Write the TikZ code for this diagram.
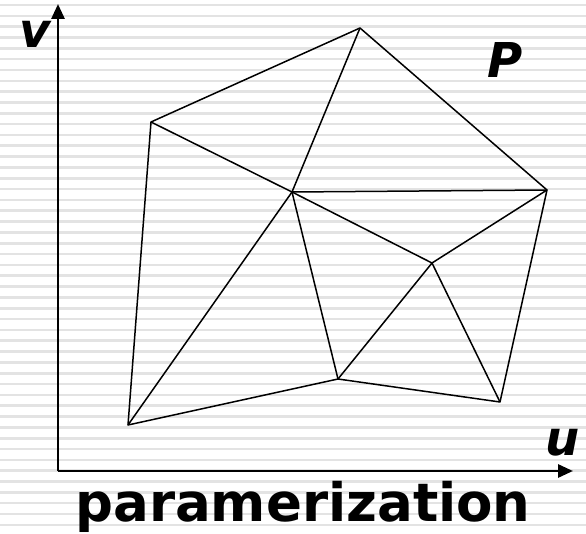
\documentclass[tikz,border=0pt]{standalone}
\usepackage{fontspec}
\setmainfont{DejaVu Sans}
\usetikzlibrary{arrows.meta}
\begin{document}
\begin{tikzpicture}[x=1pt,y=-1pt,
  stripe/.style={draw=gray!22,line width=2.6pt},
  axis/.style={line width=2.8pt,-{Triangle[length=15pt,width=13pt]}},
  edge/.style={line width=1.5pt,line join=round},
  lbl/.style={font=\fontsize{48}{48}\selectfont\bfseries\itshape,inner sep=0pt}]
\useasboundingbox (0,0) rectangle (586,534);
\foreach \k in {0,...,49} {\draw[stripe] (0,{5+10.83*\k}) -- (586,{5+10.83*\k});}
% axes
\coordinate (O) at (58,471);
\coordinate (vtip) at (58,4);
\coordinate (utip) at (573,471);
\draw[axis] (O) -- (vtip);
\draw[axis] (O) -- (utip);
% mesh vertices
\coordinate (A) at (360,28);
\coordinate (B) at (151,122);
\coordinate (C) at (547,190);
\coordinate (D) at (292,192);
\coordinate (E) at (432,263);
\coordinate (F) at (338,379);
\coordinate (G) at (500,402);
\coordinate (H) at (128,425);
\draw[edge] (A) -- (B) -- (H) -- (F) -- (G) -- (C) -- cycle;
\draw[edge] (D) -- (A);
\draw[edge] (D) -- (B);
\draw[edge] (D) -- (C);
\draw[edge] (D) -- (E);
\draw[edge] (D) -- (F);
\draw[edge] (D) -- (H);
\draw[edge] (E) -- (C);
\draw[edge] (E) -- (F);
\draw[edge] (E) -- (G);
% labels
\node[lbl] (v) at (35,34) {v};
\node[lbl] (u) at (563,443) {u};
\node[lbl] (P) at (505,60) {P};
\node[font=\fontsize{53}{53}\selectfont\bfseries,inner sep=0pt,anchor=base] (t) at (303,521) {paramerization};
\end{tikzpicture}
\end{document}
